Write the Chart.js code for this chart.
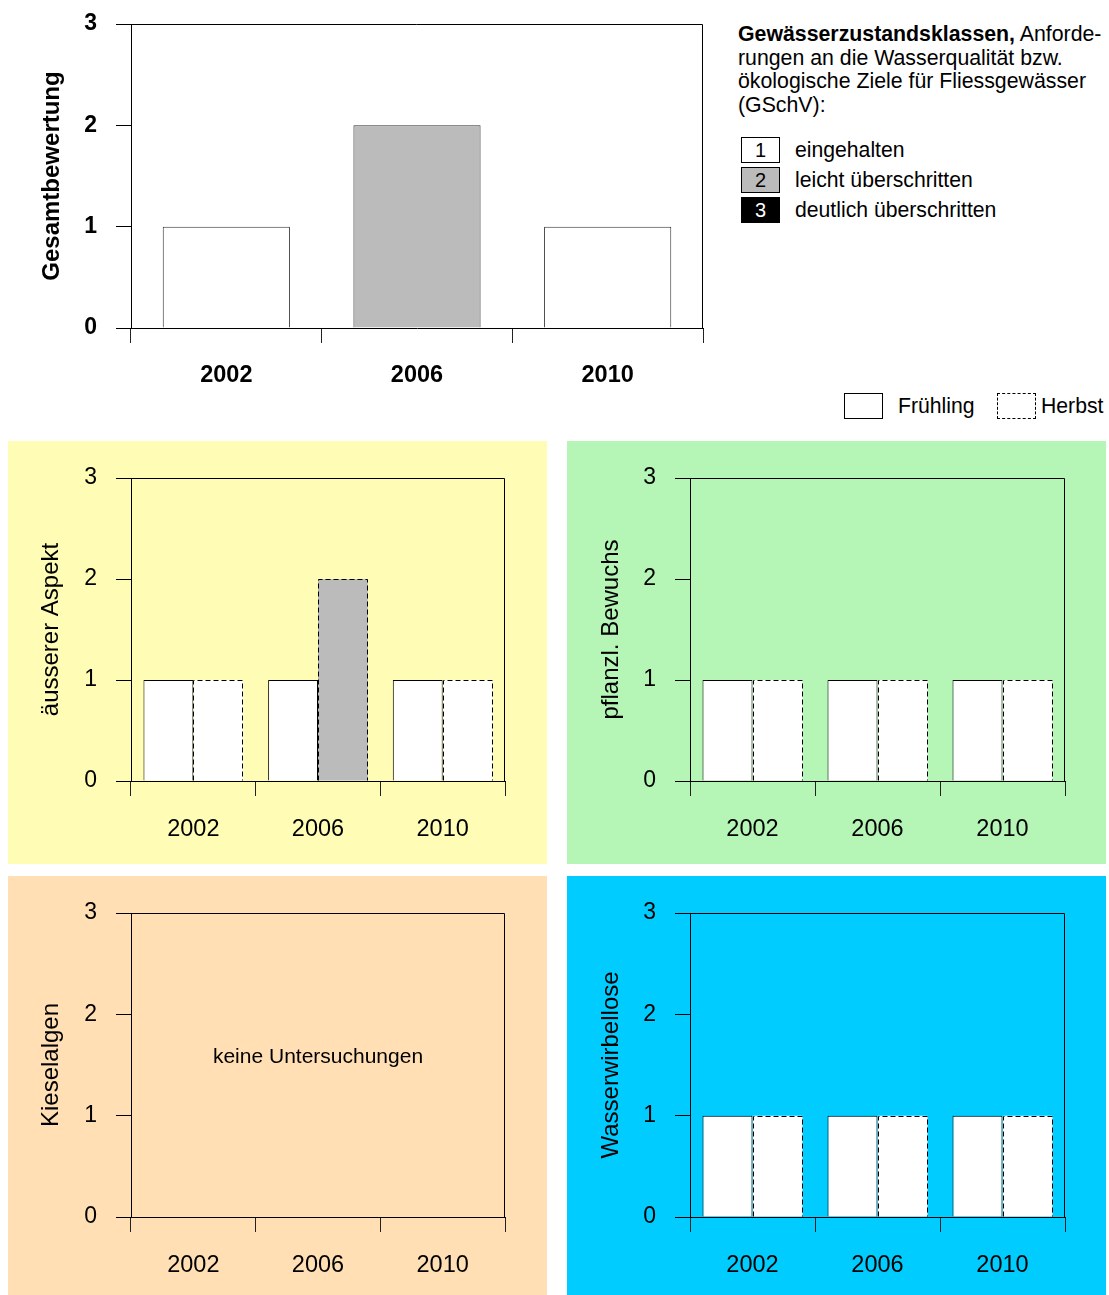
<!DOCTYPE html>
<html>
<head>
<meta charset="utf-8">
<script src="https://cdn.jsdelivr.net/npm/chart.js@4.4.1/dist/chart.umd.min.js"></script>
<style>
  body { margin: 0; background: #fff; font-family: "Liberation Sans", Arial, Helvetica, sans-serif; color: #000; }
  #page { position: relative; width: 1109px; height: 1295px; overflow: hidden; }
  .box { position: absolute; }
  .box canvas { position: absolute; left: 0; top: 0; }
  #info { position: absolute; left: 738px; top: 23px; font-size: 21.3px; line-height: 23.7px; white-space: nowrap; }
  .cls { position: absolute; left: 741px; width: 39px; height: 26px; box-sizing: border-box; border: 1px solid #000; text-align: center; font-size: 20px; line-height: 24px; }
  .clsLabel { position: absolute; left: 795px; font-size: 21.2px; line-height: 26px; white-space: nowrap; }
  .season { position: absolute; top: 393px; width: 39px; height: 26px; box-sizing: border-box; border: 1px solid #000; background: #fff; }
  .seasonLabel { position: absolute; top: 393px; font-size: 21.2px; line-height: 26px; }
</style>
</head>
<body>
<div id="page">
  <div class="box" style="left:0;top:0;width:720px;height:400px;">
    <canvas id="cTop" width="720" height="400"></canvas>
  </div>

  <div id="info"><b>Gewässerzustandsklassen,</b> Anforde-<br>rungen an die Wasserqualität bzw.<br>ökologische Ziele für Fliessgewässer<br>(GSchV):</div>
  <div class="cls" style="top:137px;background:#fff;">1</div>
  <div class="clsLabel" style="top:137px;">eingehalten</div>
  <div class="cls" style="top:167px;background:#bbbbbb;">2</div>
  <div class="clsLabel" style="top:167px;">leicht überschritten</div>
  <div class="cls" style="top:197px;background:#000;color:#fff;">3</div>
  <div class="clsLabel" style="top:197px;">deutlich überschritten</div>

  <div class="season" style="left:844px;"></div>
  <div class="seasonLabel" style="left:898px;">Frühling</div>
  <div class="season" style="left:997px;border-style:dashed;"></div>
  <div class="seasonLabel" style="left:1041px;">Herbst</div>

  <div class="box" style="left:8px;top:441px;width:539px;height:423px;background:#fffcb5;">
    <canvas id="cAspekt" width="539" height="423"></canvas>
  </div>
  <div class="box" style="left:567px;top:441px;width:539px;height:423px;background:#b5f5b5;">
    <canvas id="cBewuchs" width="539" height="423"></canvas>
  </div>
  <div class="box" style="left:8px;top:876px;width:539px;height:419px;background:#ffdfb3;">
    <canvas id="cKiesel" width="539" height="419"></canvas>
  </div>
  <div class="box" style="left:567px;top:876px;width:539px;height:419px;background:#00ccff;">
    <canvas id="cWirbel" width="539" height="419"></canvas>
  </div>
</div>

<script>
// data
const years = ["2002", "2006", "2010"];
const yTicks = [0, 1, 2, 3];
const gesamt = [1, 2, 1];
const aspektFruehling = [1, 1, 1];
const aspektHerbst = [1, 2, 1];
const bewuchsFruehling = [1, 1, 1];
const bewuchsHerbst = [1, 1, 1];
const kieselFruehling = [null, null, null];
const kieselHerbst = [null, null, null];
const wirbelFruehling = [1, 1, 1];
const wirbelHerbst = [1, 1, 1];

const classColors = { 1: "#ffffff", 2: "#bbbbbb", 3: "#000000" };
const FONT = '"Liberation Sans", Arial, Helvetica, sans-serif';

function fillFor(ctx) {
  return classColors[ctx.raw] || "#ffffff";
}

// top + right frame lines of the plot
const framePlugin = {
  id: "frame",
  afterDraw(chart) {
    const a = chart.chartArea;
    const ctx = chart.ctx;
    const t = Math.round(a.top) + 0.5;
    const r = Math.round(a.right) - 0.5;
    ctx.save();
    ctx.strokeStyle = "#000";
    ctx.lineWidth = 1;
    ctx.beginPath();
    ctx.moveTo(a.left, t);
    ctx.lineTo(r, t);
    ctx.lineTo(r, a.bottom);
    ctx.stroke();
    ctx.restore();
  }
};

// chart.js bars can't do dashed borders, so stroke them here
const dashPlugin = {
  id: "dashBars",
  afterDatasetsDraw(chart) {
    const ctx = chart.ctx;
    chart.data.datasets.forEach((ds, i) => {
      if (!ds.dashed) return;
      chart.getDatasetMeta(i).data.forEach((bar) => {
        if (bar.skip || isNaN(bar.y)) return;
        const l = Math.round(bar.x - bar.width / 2) + 0.5;
        const r = Math.round(bar.x + bar.width / 2) - 0.5;
        const t = Math.round(bar.y) + 0.5;
        const b = bar.base;
        ctx.save();
        ctx.strokeStyle = "#000";
        ctx.lineWidth = 1;
        ctx.setLineDash([5, 3]);
        ctx.beginPath();
        ctx.moveTo(l, b);
        ctx.lineTo(l, t);
        ctx.lineTo(r, t);
        ctx.lineTo(r, b);
        ctx.stroke();
        ctx.restore();
      });
    });
  }
};

const noDataPlugin = {
  id: "noData",
  afterDraw(chart, args, opts) {
    if (!opts.text) return;
    const a = chart.chartArea;
    const ctx = chart.ctx;
    ctx.save();
    ctx.font = "21px " + FONT;
    ctx.fillStyle = "#000";
    ctx.textAlign = "center";
    ctx.textBaseline = "middle";
    ctx.fillText(opts.text, (a.left + a.right) / 2, chart.scales.y.getPixelForValue(opts.at));
    ctx.restore();
  }
};

function makeChart(id, area, datasets, o) {
  const canvas = document.getElementById(id);
  const w = canvas.width, h = canvas.height;
  const weight = o.bold ? "bold" : "normal";
  return new Chart(canvas, {
    type: "bar",
    data: { labels: years, datasets: datasets },
    options: {
      responsive: false,
      animation: false,
      layout: { padding: { left: 0, top: area.top, right: w - area.right, bottom: 0 } },
      datasets: { bar: { categoryPercentage: o.catPct, barPercentage: 1 } },
      plugins: {
        legend: { display: false },
        tooltip: { enabled: false },
        noData: { text: o.noData || "", at: 1.58 }
      },
      scales: {
        x: {
          offset: true,
          grid: { display: true, drawOnChartArea: false, offset: true, tickLength: 15, tickColor: "#222", lineWidth: 1 },
          border: { display: true, color: "#000", width: 1 },
          ticks: { color: "#000", padding: o.xPad, font: { family: FONT, size: 23.5, weight: weight } },
          afterFit(scale) { scale.height = h - area.bottom; }
        },
        y: {
          min: 0,
          max: 3,
          afterBuildTicks(scale) { scale.ticks = yTicks.map((v) => ({ value: v })); },
          grid: { display: true, drawOnChartArea: false, tickLength: 15, tickColor: "#000", lineWidth: 1 },
          border: { display: true, color: "#000", width: 1 },
          ticks: { color: "#000", padding: 19, font: { family: FONT, size: 23, weight: weight } },
          title: {
            display: true,
            text: o.title,
            color: "#000",
            font: { family: FONT, size: 24, weight: weight },
            padding: { top: o.titlePad, bottom: 0 }
          },
          afterFit(scale) {
            scale.width = area.left;
            scale.paddingTop = 0;
            scale.paddingBottom = 0;
          }
        }
      }
    },
    plugins: [framePlugin, dashPlugin, noDataPlugin]
  });
}

// Gesamtbewertung
makeChart("cTop", { left: 131, top: 24, right: 703, bottom: 328 }, [
  { label: "Gesamt", data: gesamt, backgroundColor: fillFor, borderColor: "#333", borderWidth: 1, borderSkipped: "bottom" }
], { title: "Gesamtbewertung", bold: true, catPct: 0.667, titlePad: 38, xPad: 18 });

function seasonSets(fr, he) {
  return [
    { label: "Frühling", data: fr, backgroundColor: fillFor, borderColor: "#000", borderWidth: 1, borderSkipped: "bottom" },
    { label: "Herbst", data: he, backgroundColor: fillFor, borderWidth: 0, dashed: true }
  ];
}

makeChart("cAspekt", { left: 123, top: 37, right: 497, bottom: 340 }, seasonSets(aspektFruehling, aspektHerbst),
  { title: "äusserer Aspekt", catPct: 0.8, titlePad: 29, xPad: 19 });
makeChart("cBewuchs", { left: 123, top: 37, right: 498, bottom: 340 }, seasonSets(bewuchsFruehling, bewuchsHerbst),
  { title: "pflanzl. Bewuchs", catPct: 0.8, titlePad: 30, xPad: 19 });
makeChart("cKiesel", { left: 123, top: 37, right: 497, bottom: 341 }, seasonSets(kieselFruehling, kieselHerbst),
  { title: "Kieselalgen", catPct: 0.8, titlePad: 29, xPad: 19, noData: "keine Untersuchungen" });
makeChart("cWirbel", { left: 123, top: 37, right: 498, bottom: 341 }, seasonSets(wirbelFruehling, wirbelHerbst),
  { title: "Wasserwirbellose", catPct: 0.8, titlePad: 30, xPad: 19 });
</script>
</body>
</html>
